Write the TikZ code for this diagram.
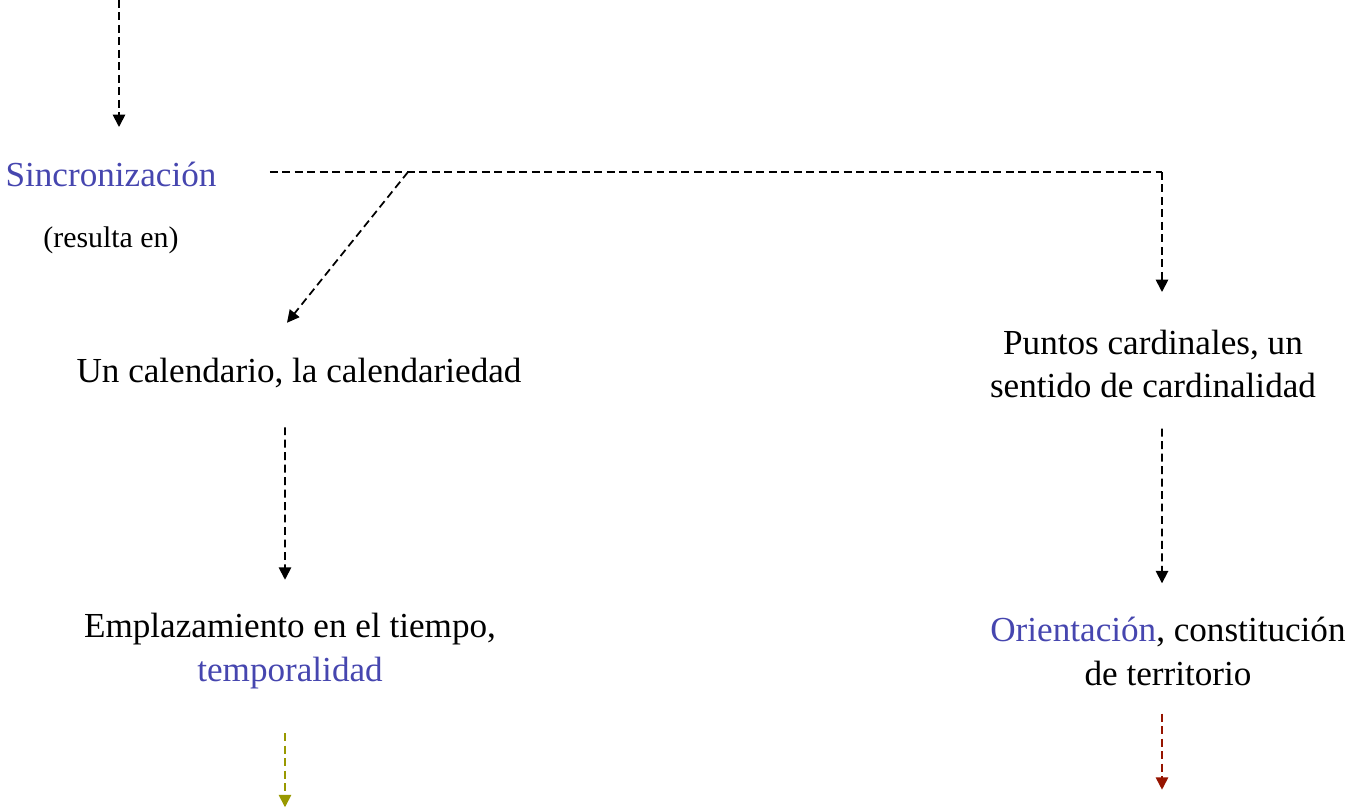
\documentclass[tikz,border=0pt]{standalone}
\usepackage{fontspec}
\setmainfont{Liberation Serif}
\usepackage{xcolor}
\usetikzlibrary{arrows.meta}
\usetikzlibrary{positioning}
\definecolor{conceptblue}{RGB}{70,70,175}
\definecolor{olivearrow}{RGB}{153,153,0}
\definecolor{redarrow}{RGB}{150,20,0}
\tikzset{%
  concept/.style={inner sep=0pt,align=center,font=\fontsize{20}{25}\selectfont},
  aside/.style={inner sep=0pt,font=\fontsize{17}{20}\selectfont}
}
\tikzset{%
  link/.style={line width=1pt,dash pattern=on 4.5pt off 2.6pt},
  flow/.style={link,-{Triangle[width=7pt,length=7pt]}}
}
\newcommand\hl[1]{\textcolor{conceptblue}{#1}}

\begin{document}
\begin{tikzpicture}
        \useasboundingbox (0,0) rectangle (27.18,-16.22);
        \node[concept,text=conceptblue] (sync) at (2.22,-3.48) {Sincronizaci\'on};
        \node[aside] (res) at (2.22,-4.8) {(resulta en)};
        \node[concept] (cal) at (5.98,-7.46) {Un calendario, la calendariedad};
        \node[concept] (emp) at (5.8,-13.03) {Emplazamiento en el tiempo,\\\hl{temporalidad}};
        \node[concept] (punt) at (23.06,-7.28) {Puntos cardinales, un\\sentido de cardinalidad};
        \node[concept] (ori) at (23.36,-13.03) {\hl{Orientaci\'on}, constituci\'on\\de territorio};

        \coordinate (src) at (2.38,0);
        \coordinate (split) at (8.16,-3.44);
        \coordinate (corner) at (23.24,-3.44);

        \draw[flow] (src) -- (src |- 0,-2.54);
        \draw[link] ([xshift=1.06cm]sync.east |- split) -- (corner);
        \draw[flow] (split) -- ([shift={(-0.24,0.7)}]cal.north);
        \draw[flow] (corner) -- (corner |- 0,-5.84);

        \draw[flow] ([shift={(-0.28,-0.78)}]cal.south) -- ([shift={(-0.1,0.67)}]emp.north);
        \draw[flow] ([shift={(0.18,-0.6)}]punt.south) -- ([shift={(-0.12,0.67)}]ori.north);

        \draw[flow,olivearrow] ([shift={(-0.1,-0.87)}]emp.south) -- ++(0,-1.48);
        \draw[flow,redarrow] ([shift={(-0.12,-0.55)}]ori.south) -- ++(0,-1.52);
      \end{tikzpicture}
\end{document}
